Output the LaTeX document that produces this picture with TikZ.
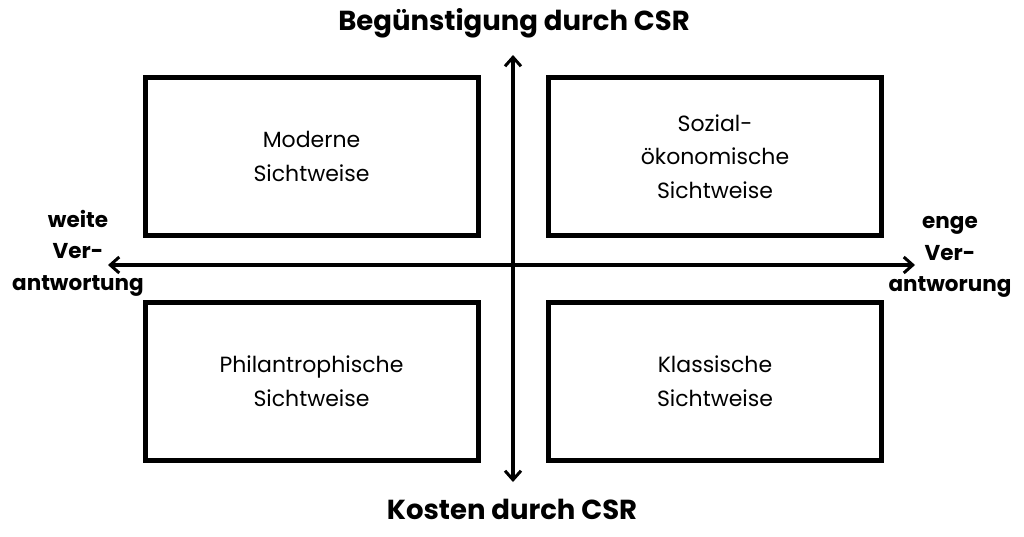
\documentclass[tikz,border=0pt]{standalone}
\usepackage{fontspec}
\setmainfont{Poppins}
\usetikzlibrary{arrows.meta}
\begin{document}
\begin{tikzpicture}[x=1pt,y=-1pt,
  quad/.style={draw=black,line width=5pt,minimum width=333pt,minimum height=158pt,align=center,font=\fontsize{22}{33.5}\selectfont},
  axis/.style={line width=3.5pt,{Straight Barb[length=9pt,width=16pt,line width=3pt]}-{Straight Barb[length=9pt,width=16pt,line width=3pt]}},
  axlab/.style={font=\bfseries\fontsize{27.5}{30}\selectfont},
  sidelab/.style={font=\bfseries\fontsize{21.5}{31.5}\selectfont,align=center}]
\useasboundingbox (0,0) rectangle (1024,536);
\node[quad] (tl) at (311.5,156.5) {Moderne\\Sichtweise};
\node[quad] (tr) at (715,156.5) {Sozial-\\ökonomische\\Sichtweise};
\node[quad] (bl) at (311.5,381) {Philantrophische\\Sichtweise};
\node[quad] (br) at (715,381) {Klassische\\Sichtweise};
\coordinate (top) at (513,55);
\coordinate (bot) at (513,482);
\coordinate (lft) at (108,265);
\coordinate (rgt) at (915,265);
\draw[axis] (bot) -- (top);
\draw[axis] (lft) -- (rgt);
\node[axlab] (ben) at (514,23) {Begünstigung durch CSR};
\node[axlab] (kos) at (512,509) {Kosten durch CSR};
\node[sidelab] (wv) at (78,253) {weite\\Ver-\\antwortung};
\node[sidelab] (ev) at (950,257) {enge\\Ver-\\antworung};
\end{tikzpicture}
\end{document}
